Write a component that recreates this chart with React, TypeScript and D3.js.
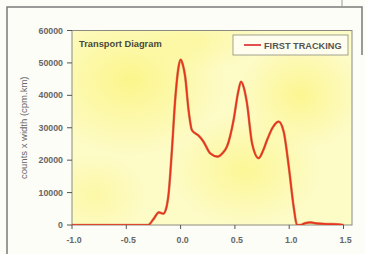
import React from 'react';
import * as d3 from 'd3';

const xTicks = [-1.0, -0.5, 0.0, 0.5, 1.0, 1.5];
const yTicks = [0, 10000, 20000, 30000, 40000, 50000, 60000];

// FIRST TRACKING, position vs counts x width
const trackX = [-1.0, -0.8, -0.6, -0.4, -0.3, -0.25, -0.2, -0.16, -0.13, -0.11, -0.08, -0.05, -0.02, 0.0, 0.02, 0.042, 0.073, 0.104, 0.135, 0.165, 0.211, 0.273, 0.341, 0.39, 0.427, 0.488, 0.53, 0.556, 0.585, 0.611, 0.658, 0.719, 0.76, 0.796, 0.85, 0.903, 0.949, 0.996, 1.041, 1.073, 1.1, 1.15, 1.196, 1.25, 1.35, 1.45, 1.5];
const trackY = [0, 0, 0, 0, 0, 1800, 3900, 3500, 5500, 9800, 23100, 38600, 48500, 51000, 49500, 45800, 35500, 29300, 28300, 27600, 25700, 22100, 21100, 22300, 24200, 32400, 41000, 44200, 42000, 37600, 25200, 20600, 23000, 26200, 30200, 31900, 28800, 18000, 5600, 0, 0, 600, 800, 500, 300, 200, 0];

const blobs = [
  { cx: 130, cy: 80, rx: 95, ry: 75, o: 0.55 },
  { cx: 300, cy: 95, rx: 60, ry: 55, o: 0.5 },
  { cx: 245, cy: 170, rx: 75, ry: 55, o: 0.45 },
  { cx: 95, cy: 195, rx: 50, ry: 40, o: 0.3 },
  { cx: 200, cy: 40, rx: 60, ry: 30, o: 0.3 },
];

export default function App() {
  const W = 365, H = 254;
  const left = 72, right = 352, top = 30.5, bottom = 225;
  const x = d3.scaleLinear().domain([-1.0, 1.58]).range([left, right + 0.2]);
  const y = d3.scaleLinear().domain([0, 60000]).range([bottom, top]);
  const line = d3.line<number>()
    .x((d, i) => x(trackX[i]))
    .y(d => y(d))
    .curve(d3.curveMonotoneX);
  const path = line(trackY) || '';
  const font = '"Liberation Sans", Arial, sans-serif';

  return (
    <svg width={W} height={H} style={{ position: 'fixed', left: 0, top: 0, background: '#fcfcf6' }}>
      <defs>
        <radialGradient id="blob">
          <stop offset="0%" stopColor="#fbf15c" stopOpacity={1} />
          <stop offset="50%" stopColor="#fbf15c" stopOpacity={0.5} />
          <stop offset="100%" stopColor="#fbf15c" stopOpacity={0} />
        </radialGradient>
        <clipPath id="plot">
          <rect x={left} y={top} width={right - left} height={bottom - top} />
        </clipPath>
      </defs>
      <rect x={0} y={0} width={W} height={H} fill="#fdfdf8" />
      {/* photo frame */}
      <path d="M7,254 L7,7 L362,7 L362,55" fill="none" stroke="#7a7a7a" strokeWidth={1.5} />
      <line x1={342} y1={0} x2={342} y2={6} stroke="#999" strokeWidth={1} />

      <rect x={left} y={top} width={right - left} height={bottom - top} fill="#fdfbc6" />
      <g clipPath="url(#plot)">
        {blobs.map((b, i) => (
          <ellipse key={i} cx={b.cx} cy={b.cy} rx={b.rx} ry={b.ry} fill="url(#blob)" opacity={b.o} />
        ))}
      </g>
      <rect x={left} y={top} width={right - left} height={bottom - top} fill="none" stroke="#8a8a80" strokeWidth={1} />

      {yTicks.map(t => (
        <g key={t}>
          <line x1={left - 5} x2={left} y1={y(t)} y2={y(t)} stroke="#555" strokeWidth={1} />
          <text x={left - 9} y={y(t) + 3} textAnchor="end" fontFamily={font} fontSize={8.8} fontWeight="bold" fill="#666">{t}</text>
        </g>
      ))}
      {xTicks.map(t => (
        <g key={t}>
          <line x1={x(t)} x2={x(t)} y1={bottom} y2={bottom + 4} stroke="#555" strokeWidth={1} />
          <text x={x(t) + 2} y={bottom + 18} textAnchor="middle" fontFamily={font} fontSize={8.8} fontWeight="bold" fill="#666">{t.toFixed(1)}</text>
        </g>
      ))}
      <text transform={`translate(27,${(top + bottom) / 2}) rotate(-90)`} textAnchor="middle" fontFamily={font} fontSize={9.5} fill="#666">counts x  width (cpm.km)</text>

      <g clipPath="url(#plot)">
        <path d={path} fill="none" stroke="#b8401c" strokeWidth={2.6} strokeOpacity={0.5} />
        <path d={path} fill="none" stroke="#e8341e" strokeWidth={1.7} />
      </g>

      <text x={79} y={47} fontFamily={font} fontSize={9.3} fontWeight="bold" fill="#4a4a3a">Transport Diagram</text>
      <rect x={233} y={35} width={115} height={20} fill="#fefdee" stroke="#8a8a80" strokeWidth={0.8} />
      <line x1={244} x2={261} y1={45} y2={45} stroke="#e05050" strokeWidth={2} />
      <text x={264} y={48.5} fontFamily={font} fontSize={9.2} fontWeight="bold" fill="#555">FIRST TRACKING</text>
    </svg>
  );
}
